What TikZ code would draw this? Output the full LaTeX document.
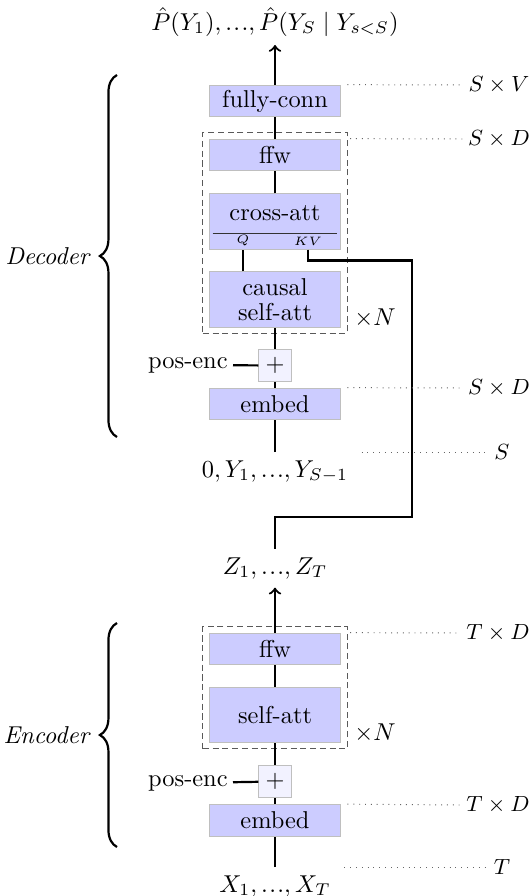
\documentclass[tikz,border=0pt]{standalone}
\usetikzlibrary{positioning,fit,decorations.pathreplacing}
\newcommand{\tdots}{{\ldotp\mkern-2mu\ldotp\mkern-2mu\ldotp}}
\begin{document}
\begin{tikzpicture}[
    x=0.41pt, y=-0.41pt,
    box/.style={rectangle, draw=black!25, fill=blue!20, minimum width=54pt, minimum height=13pt, inner sep=0pt, align=center},
    tallbox/.style={box, minimum height=22.6pt},
    plusbox/.style={rectangle, draw=black!25, fill=blue!5, minimum size=13.3pt, inner sep=0pt},
    group/.style={draw=black!65, dash pattern=on 2.5pt off 1.5pt, inner sep=2.4pt},
    conn/.style={line width=0.9pt},
    arrow/.style={->, line width=0.9pt},
    dim/.style={inner sep=2pt, font=\small},
    guide/.style={dotted, black!60},
    brace/.style={decorate, decoration={brace, amplitude=7pt}, line width=0.9pt}
]
    \useasboundingbox (0,0) rectangle (529,896);

    % Decoder
    \node[anchor=south] (out) at (275,45) {$\hat{P}(Y_1),\tdots,\hat{P}(Y_S \mid Y_{s<S})$};
    \node[box] (fc) at (275,101) {fully-conn};
    \node[box] (dffw) at (275,155) {ffw};
    \node[tallbox] (cross) at (275,221.5) {};
    \node (crosstxt) at (275,213) {cross-att};
    \node[tallbox] (causal) at (275,299.5) {causal\\[-1.5pt]self-att};
    \node[group, fit=(dffw)(causal)] (dblock) {};
    \node (dN) at (375,318) {$\times N$};
    \node[plusbox] (dplus) at (275,365.5) {$+$};
    \node[anchor=east, inner sep=2pt] (dpos) at (233,365) {pos-enc};
    \node[box] (dembed) at (275,404) {embed};
    \node[anchor=north] (din) at (275,452) {$0, Y_1, \tdots, Y_{S-1}$};

    % Q / KV split inside cross-att
    \draw[black!80] ([xshift=1.6pt, yshift=6.6pt]cross.south west) -- ([xshift=-1.6pt, yshift=6.6pt]cross.south east);
    \node[font=\tiny, inner sep=0pt] (q) at (243,241) {$Q$};
    \node[font=\tiny, inner sep=0pt] (kv) at (308,241) {$KV$};

    % Encoder
    \node[anchor=north] (zin) at (275,549) {$Z_1,\tdots,Z_T$};
    \node[box] (effw) at (275,649) {ffw};
    \node[tallbox] (eself) at (275,715) {self-att};
    \node[group, fit=(effw)(eself)] (eblock) {};
    \node (eN) at (375,733) {$\times N$};
    \node[plusbox] (eplus) at (275,781.5) {$+$};
    \node[anchor=east, inner sep=2pt] (epos) at (233,783) {pos-enc};
    \node[box] (eembed) at (275,820.5) {embed};
    \node[anchor=north] (xin) at (275,867) {$X_1,\tdots,X_T$};

    % Arrows
    \draw[arrow] (fc) -- (out);
    \draw[conn] (dffw) -- (fc);
    \draw[conn] (cross) -- (dffw);
    \draw[conn] (causal.north -| q) -- (q |- cross.south);
    \draw[conn] (dplus) -- (causal);
    \draw[conn] (dpos) -- (dplus);
    \draw[conn] (dembed) -- (dplus);
    \draw[conn] (din) -- (dembed);

    \draw[arrow] (effw) -- (zin);
    \draw[conn] (eself) -- (effw);
    \draw[conn] (eplus) -- (eself);
    \draw[conn] (epos) -- (eplus);
    \draw[conn] (eembed) -- (eplus);
    \draw[conn] (xin) -- (eembed);

    % Encoder output into KV
    \coordinate (kvturn) at (412,517);
    \draw[conn] (kv |- cross.south) -- ++(0,11) -| (kvturn) -| (zin.north);

    % Sizes
    \node[dim] (dSV) at (499,85) {$S \times V$};
    \node[dim] (dSD1) at (499,139) {$S \times D$};
    \node[dim] (dSD2) at (499,388) {$S \times D$};
    \node[dim] (dS) at (502,452) {$S$};
    \node[dim] (eTD1) at (498,633) {$T \times D$};
    \node[dim] (eTD2) at (498,805) {$T \times D$};
    \node[dim] (eT) at (502,867) {$T$};
    \draw[guide] ([xshift=2.5pt]fc.north east) -- (dSV.west);
    \draw[guide] ([xshift=1pt]dblock.east |- dffw.north) -- (dSD1.west);
    \draw[guide] ([xshift=2.5pt]dembed.north east) -- (dSD2.west);
    \draw[guide] ([xshift=2pt]din.north east) -- (dS.west);
    \draw[guide] ([xshift=1pt]eblock.east |- effw.north) -- (eTD1.west);
    \draw[guide] ([xshift=2.5pt]eembed.north east) -- (eTD2.west);
    \draw[guide] ([xshift=2pt]xin.north east) -- (eT.west);

    % Braces
    \coordinate (dtop) at (117,75);
    \coordinate (dbot) at (117,437);
    \coordinate (etop) at (117,623);
    \coordinate (ebot) at (117,847);
    \draw[brace] (dbot) -- (dtop) node[midway, xshift=-7pt, anchor=east] (declbl) {\textit{Decoder}};
    \draw[brace] (ebot) -- (etop) node[midway, xshift=-7pt, anchor=east] (enclbl) {\textit{Encoder}};

\end{tikzpicture}
\end{document}
